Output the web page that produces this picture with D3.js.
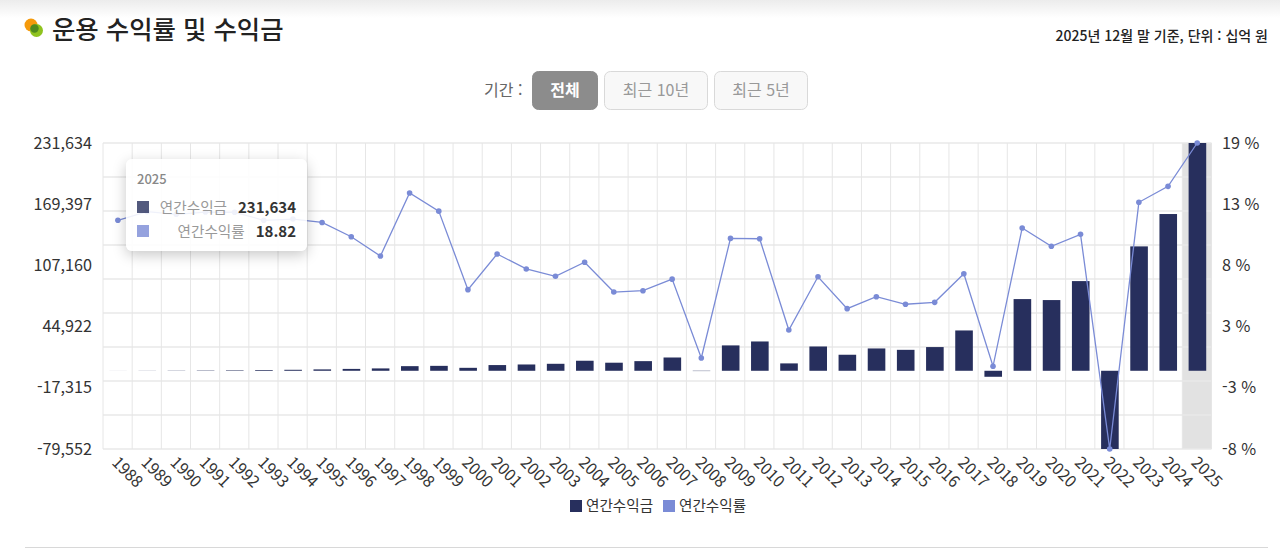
<!DOCTYPE html>
<html lang="ko"><head><meta charset="utf-8">
<script src="https://cdn.jsdelivr.net/npm/d3@7"></script>
<style>
html,body{margin:0;padding:0;background:#fff;width:1280px;height:558px;overflow:hidden;font-family:"Noto Sans CJK KR","Noto Sans",sans-serif;}
svg{position:absolute;left:0;top:0}
svg text{font-family:"Noto Sans CJK KR","Noto Sans",sans-serif}
.tip{position:absolute;left:126px;top:159px;width:181px;height:92px;background:rgba(255,255,255,.88);border-radius:6px;box-shadow:0 4px 14px rgba(0,0,0,.22);color:#333;}
.tip div{position:absolute;white-space:nowrap;line-height:18px}
</style></head><body>
<svg id="c" width="1280" height="558"></svg>
<div class="tip" id="tip"></div>
<script>
const years = d3.range(1988, 2026).map(String);
const profit = [40,110,200,330,500,750,1000,1400,1900,2400,4700,5000,3000,5800,6400,7100,10200,8200,9800,13500,-300,25800,29800,7500,24700,16300,22700,21300,24100,41000,-6100,72900,71900,91200,-79552,126500,159400,231634];
const rate = [11.99,12.75,12.52,12.72,12.70,11.99,12.10,11.80,10.54,8.83,14.40,12.80,5.86,9.01,7.69,7.04,8.28,5.65,5.77,6.79,-0.18,10.39,10.36,2.29,7.00,4.18,5.24,4.57,4.74,7.27,-0.91,11.31,9.69,10.75,-8.22,13.58,14.99,18.82];
const leftLabels = ["231,634","169,397","107,160","44,922","-17,315","-79,552"];
const rightLabels = ["19 %","13 %","8 %","3 %","-3 %","-8 %"];
const seriesNames = ["연간수익금","연간수익률"];
const periodButtons = ["전체","최근 10년","최근 5년"];
const BAR="#272f5d", LINE="#7a8bd6";

const m={l:103,r:1211.5,t:143,b:449};
const svg=d3.select("#c");
const x=d3.scaleBand().domain(years).range([m.l,m.r]);
const y=d3.scaleLinear().domain([d3.min(profit),d3.max(profit)]).range([m.b,m.t]);
const yr=d3.scaleLinear().domain([d3.min(rate),d3.max(rate)]).range([m.b,m.t]);
const lp=d3.scalePoint().domain(leftLabels).range([m.t,m.b]);
const rp=d3.scalePoint().domain(rightLabels).range([m.t,m.b]);

// top fade
const defs=svg.append("defs");
const g=defs.append("linearGradient").attr("id","fade").attr("x1",0).attr("x2",0).attr("y1",0).attr("y2",1);
g.append("stop").attr("offset",0).attr("stop-color","#ececec");
g.append("stop").attr("offset",1).attr("stop-color","#fff");
svg.append("rect").attr("width",1280).attr("height",18).attr("fill","url(#fade)");

// header
svg.append("circle").attr("cx",31).attr("cy",25).attr("r",6.5).attr("fill","#f59a0c");
svg.append("circle").attr("cx",36.5).attr("cy",30.5).attr("r",6.5).attr("fill","#8fc31f");
svg.append("circle").attr("cx",34.5).attr("cy",28.5).attr("r",4.2).attr("fill","#4f8a1d");
svg.append("text").attr("x",52).attr("y",38.5).attr("font-size",25.4).attr("font-weight",500).attr("fill","#222").text("운용 수익률 및 수익금");
svg.append("text").attr("x",1268).attr("y",41).attr("text-anchor","end").attr("font-size",14).attr("font-weight",500).attr("fill","#222").text("2025년 12월 말 기준, 단위 : 십억 원");
svg.append("text").attr("x",484).attr("y",96).attr("font-size",16).attr("fill","#666").text("기간 :");

const btnX=d3.scaleOrdinal().domain(periodButtons).range([532,604,714]);
const btnW=d3.scaleOrdinal().domain(periodButtons).range([66,104,94]);
const btn=svg.append("g").selectAll("g").data(periodButtons).join("g").attr("transform",d=>`translate(${btnX(d)},71)`);
btn.append("rect").attr("x",.5).attr("y",.5).attr("width",d=>btnW(d)-1).attr("height",38).attr("rx",6)
  .attr("fill",(d,i)=>i?"#f8f8f8":"#8c8c8c").attr("stroke",(d,i)=>i?"#d9d9d9":"#8c8c8c");
btn.append("text").attr("x",d=>btnW(d)/2).attr("y",25).attr("text-anchor","middle").attr("font-size",16)
  .attr("font-weight",(d,i)=>i?400:700).attr("fill",(d,i)=>i?"#999":"#fff").text(d=>d);

// highlight
svg.append("rect").attr("x",x("2025")).attr("y",m.t).attr("width",x.bandwidth()).attr("height",m.b-m.t).attr("fill","#e2e2e2");

// grid
const gridVals=d3.range(10).map(i=>y.domain()[0]+i*(y.domain()[1]-y.domain()[0])/9);
svg.append("g").selectAll("line").data(gridVals).join("line").attr("x1",m.l).attr("x2",m.r)
  .attr("y1",d=>y(d)).attr("y2",d=>y(d)).attr("stroke","#e9e9e9").attr("stroke-width",1.5);
svg.append("g").selectAll("line").data(years.concat("end")).join("line")
  .attr("x1",d=>d==="end"?m.r:x(d)).attr("x2",d=>d==="end"?m.r:x(d)).attr("y1",m.t).attr("y2",m.b)
  .attr("stroke","#e6e6e6").attr("stroke-width",1);

// bars
const bw=17.6;
svg.append("g").selectAll("rect").data(profit).join("rect")
  .attr("x",(d,i)=>x(years[i])+x.bandwidth()/2-bw/2+.5).attr("width",bw)
  .attr("y",d=>Math.min(y(d),y(0))).attr("height",d=>Math.abs(y(d)-y(0))).attr("fill",BAR);

// line
const ln=d3.line().x((d,i)=>x(years[i])+x.bandwidth()/2+.3).y(d=>yr(d));
svg.append("path").datum(rate).attr("d",ln).attr("fill","none").attr("stroke",LINE).attr("stroke-width",1.3);
svg.append("g").selectAll("circle").data(rate).join("circle")
  .attr("cx",(d,i)=>x(years[i])+x.bandwidth()/2+.3).attr("cy",d=>yr(d)).attr("r",2.8).attr("fill",LINE);

// axes
const ax=d3.axisLeft(lp).tickSize(0).tickPadding(0);
const gl=svg.append("g").attr("transform",`translate(${92},0)`).call(ax);
gl.select(".domain").remove();
gl.selectAll("text").attr("font-size",16.2).attr("fill","#333");
const gr=svg.append("g").attr("transform",`translate(${1222},0)`).call(d3.axisRight(rp).tickSize(0).tickPadding(0));
gr.select(".domain").remove();
gr.selectAll("text").attr("font-size",16.2).attr("fill","#333");
const gb=svg.append("g").attr("transform",`translate(0,${m.b})`).call(d3.axisBottom(x).tickSize(0).tickPadding(0));
gb.select(".domain").remove();
gb.selectAll("text").attr("font-size",16).attr("fill","#333").attr("text-anchor","middle").attr("dy",0).attr("y",0)
  .attr("transform","translate(6,27) rotate(45)");

// legend
const lx=d3.scaleOrdinal().domain(seriesNames).range([570,663]);
const lg=svg.append("g").selectAll("g").data(seriesNames).join("g").attr("transform",d=>`translate(${lx(d)},500)`);
lg.append("rect").attr("width",12).attr("height",12).attr("fill",(d,i)=>i?LINE:BAR);
lg.append("text").attr("x",16).attr("y",11).attr("font-size",14.6).attr("fill","#333").text(d=>d);

// footer rule
svg.append("line").attr("x1",25).attr("x2",1268).attr("y1",547.5).attr("y2",547.5).attr("stroke","#d8d8d8").attr("stroke-width",1.2);

// tooltip
const tip=d3.select("#tip");
const last=years.length-1;
tip.append("div").style("left","11px").style("top","11px").style("font-size","13px").style("font-weight","500").style("color","#888").text(years[last]);
const rows=[[seriesNames[0],d3.format(",")(profit[last]),BAR],[seriesNames[1],d3.format(".2f")(rate[last]),LINE]];
rows.forEach((r,i)=>{
  const top=39+i*24;
  tip.append("div").style("left","11px").style("top",(top+3)+"px").style("width","12px").style("height","12px").style("background",r[2]).style("opacity",.8);
  tip.append("div").style("right","11px").style("top",top+"px").style("font-size","15px").style("font-weight","700").style("color","#333")
    .html(`<span style="font-weight:400;font-size:14.6px;color:#999;margin-right:11px">${r[0]}</span>${r[1]}`);
});
</script></body></html>
